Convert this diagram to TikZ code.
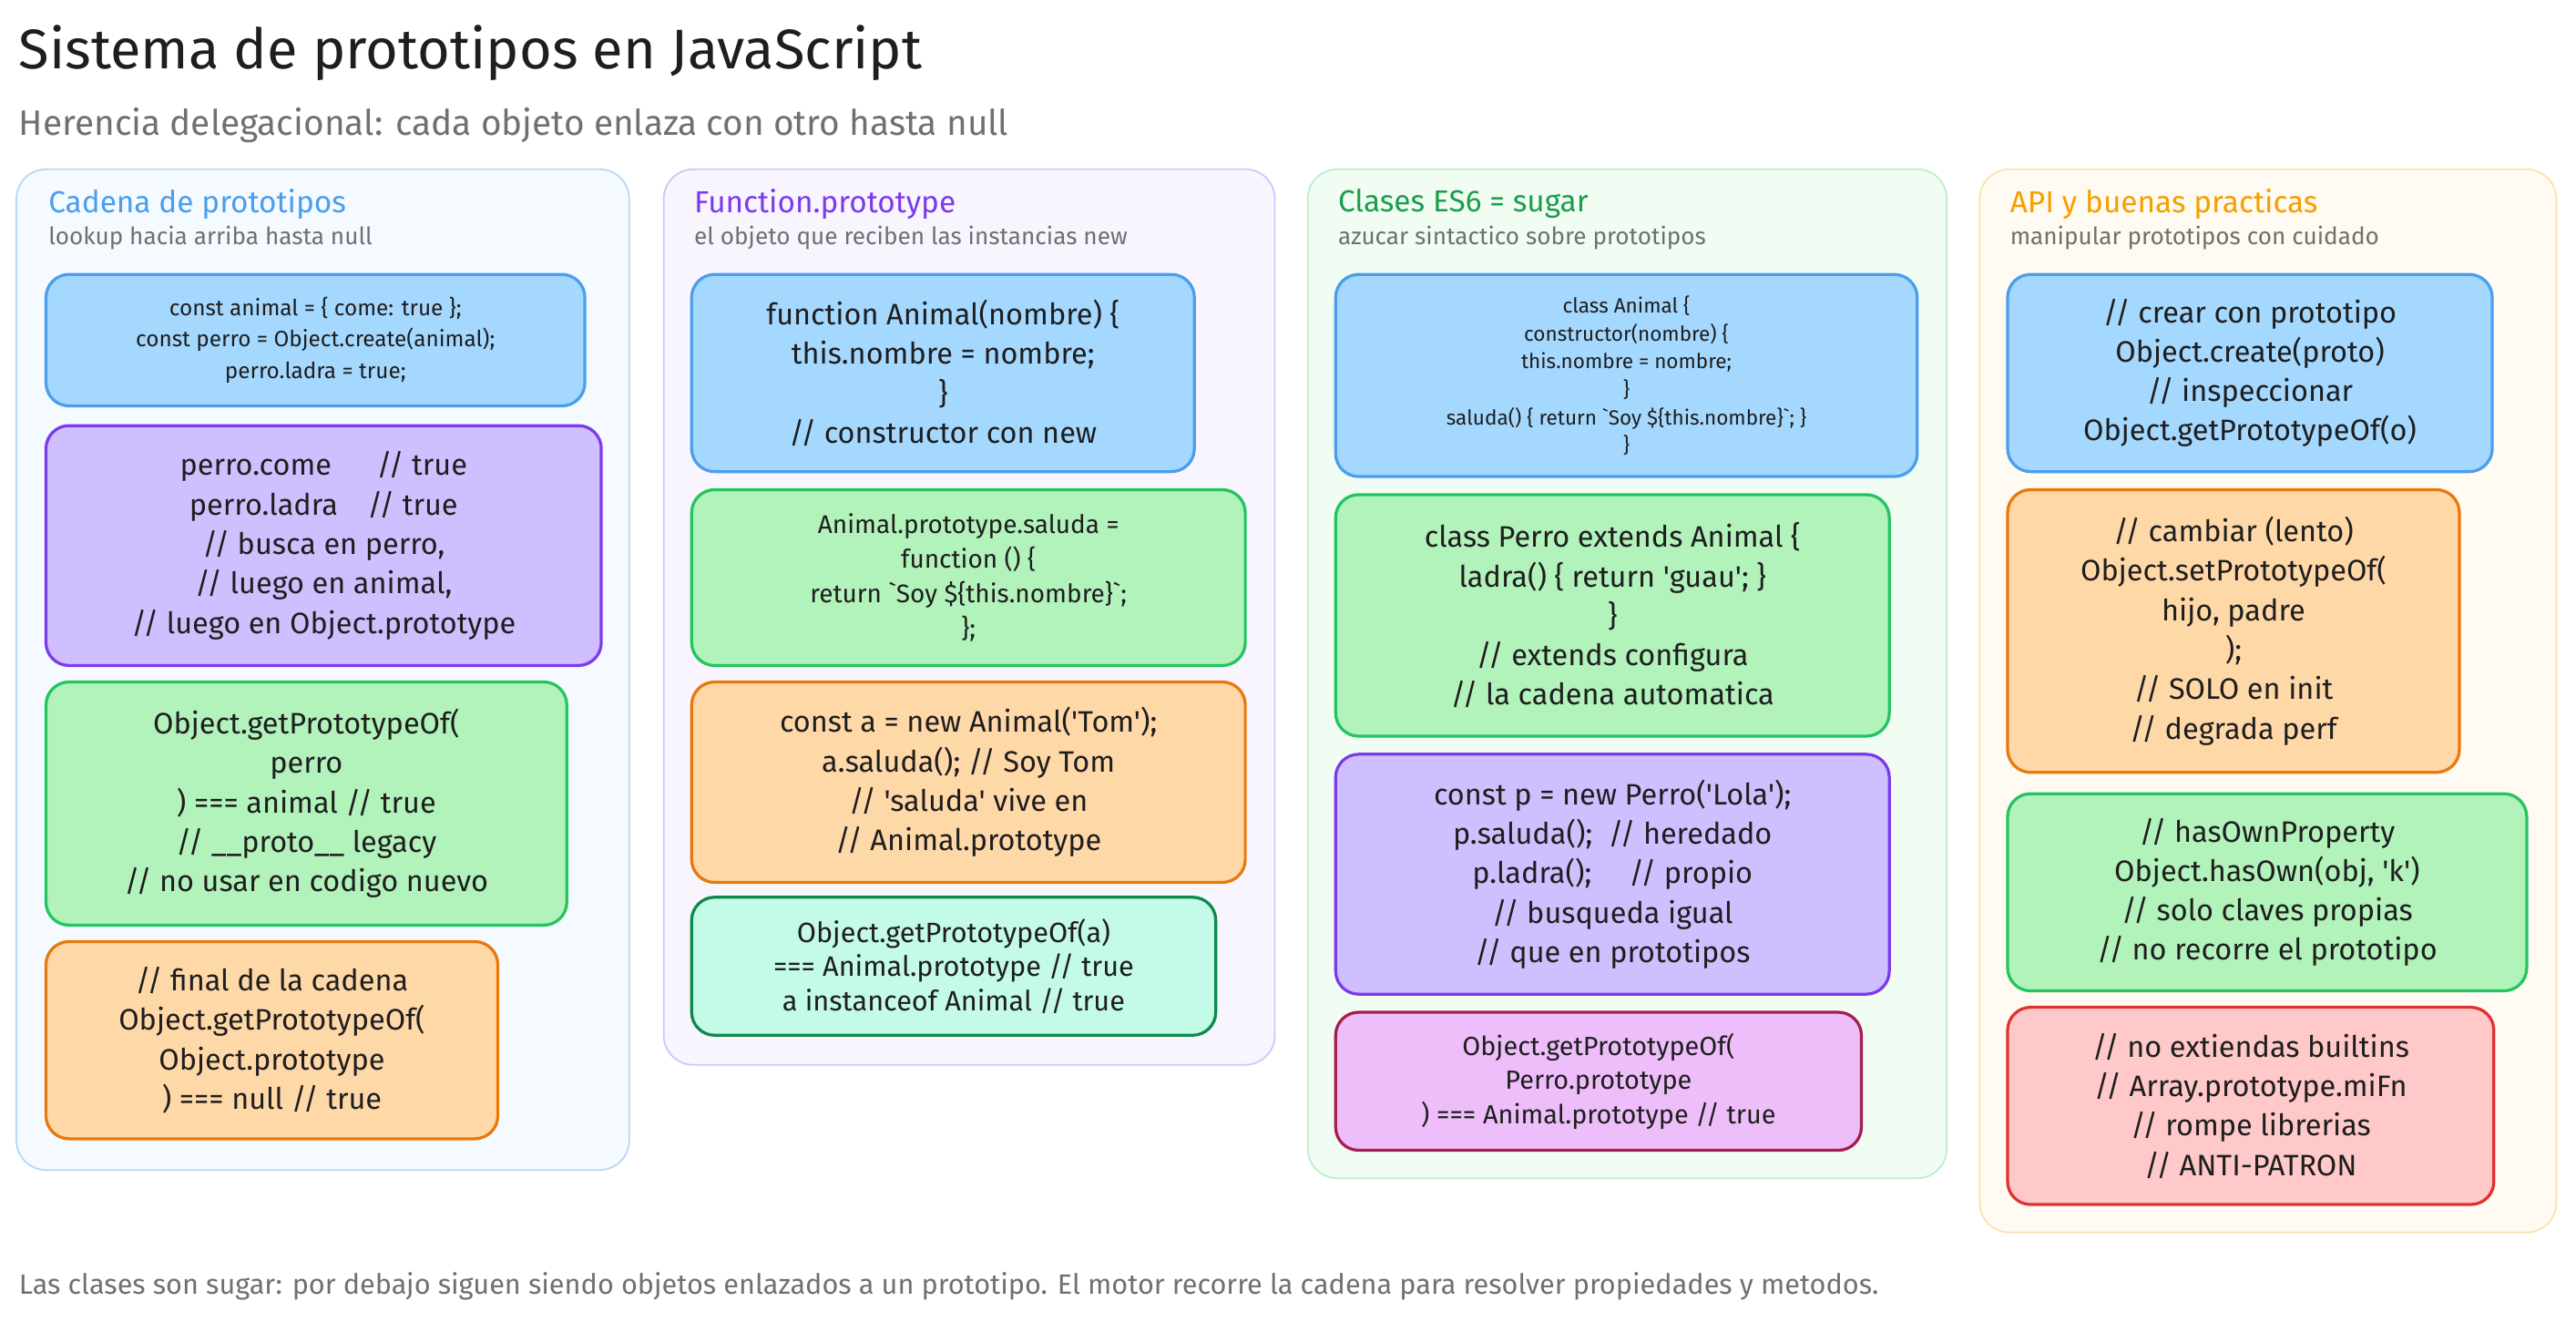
\documentclass[tikz,border=0pt]{standalone}
\usepackage{fontspec}
\newfontfamily\hf{Fira Sans}
\definecolor{ink}{HTML}{1E1E1E}
\definecolor{bF}{HTML}{A5D8FF}\definecolor{bD}{HTML}{4A9EED}
\definecolor{pF}{HTML}{D0BFFF}\definecolor{pD}{HTML}{7C3AED}
\definecolor{gF}{HTML}{B2F2BB}\definecolor{gD}{HTML}{22C55E}
\definecolor{oF}{HTML}{FFD8A8}\definecolor{oD}{HTML}{E8790B}
\definecolor{tF}{HTML}{C3FAE8}\definecolor{tD}{HTML}{0C8A4A}
\definecolor{kF}{HTML}{EEBEFA}\definecolor{kD}{HTML}{A61E4D}
\definecolor{rF}{HTML}{FFC9C9}\definecolor{rD}{HTML}{E03131}
\definecolor{yD}{HTML}{F59F00}
\definecolor{gray1}{HTML}{707070}
\tikzset{
 card/.style={draw=#1D,fill=#1F,line width=1.8pt,rounded corners=14pt,align=center,text=ink,inner sep=4pt},
 panel/.style={draw=#1,line width=1pt,rounded corners=18pt},
 big/.style={font=\hf\fontsize{18}{24}\selectfont},
 head/.style={anchor=west,font=\hf\fontsize{18.5}{20}\selectfont},
 sub/.style={anchor=west,font=\hf\fontsize{14.5}{15}\selectfont,text=gray1},
}
\newcommand\bx[7]{\node[#6,minimum width=#4pt-#2pt,minimum height=#5pt-#3pt] (#1) at ({(#2+#4)/2},{(#3+#5)/2}) {#7};}
\begin{document}
\begin{tikzpicture}[x=1pt,y=-1pt]
\useasboundingbox[fill=white] (0,0) rectangle (1568,804);
\node[anchor=west,font=\hf\fontsize{34}{38}\selectfont,text=ink] (title) at (8,32) {Sistema de prototipos en JavaScript};
\node[anchor=west,font=\hf\fontsize{21.5}{24}\selectfont,text=gray1] (subt) at (8,76) {Herencia delegacional: cada objeto enlaza con otro hasta null};
% panels
\draw[panel=bD!40,fill=bF!12] (10,103) rectangle (383,712);
\draw[panel=pD!30,fill=pF!15] (404,103) rectangle (776,648);
\draw[panel=gD!30,fill=gF!18] (796,103) rectangle (1185,717);
\draw[panel=yD!30,fill=yD!5] (1205,103) rectangle (1556,750);
\node[head,text=bD] (h1) at (26,124) {Cadena de prototipos};
\node[sub] (s1) at (26,145) {lookup hacia arriba hasta null};
\node[head,text=pD] (h2) at (419,124) {Function.prototype};
\node[sub] (s2) at (419,145) {el objeto que reciben las instancias new};
\node[head,text=gD!80!black] (h3) at (811,124) {Clases ES6 = sugar};
\node[sub] (s3) at (811,145) {azucar sintactico sobre prototipos};
\node[head,text=yD] (h4) at (1220,124) {API y buenas practicas};
\node[sub] (s4) at (1220,145) {manipular prototipos con cuidado};
% col1
\bx{a1}{28}{167}{356}{247}{card=b,font=\hf\fontsize{13.5}{19}\selectfont}{const animal = \{ come: true \};\\const perro = Object.create(animal);\\perro.ladra = true;}
\bx{a2}{28}{259}{366}{405}{card=p,big}{perro.come\quad\ \ // true\\perro.ladra\quad // true\\// busca en perro,\\// luego en animal,\\// luego en Object.prototype}
\bx{a3}{28}{415}{345}{563}{card=g,big}{Object.getPrototypeOf(\\perro\\) === animal // true\\// \_\_proto\_\_ legacy\\// no usar en codigo nuevo}
\bx{a4}{28}{573}{303}{693}{card=o,big}{// final de la cadena\\Object.getPrototypeOf(\\Object.prototype\\) === null // true}
% col2
\bx{b1}{421}{167}{727}{287}{card=b,big}{function Animal(nombre) \{\\this.nombre = nombre;\\\}\\// constructor con new}
\bx{b2}{421}{298}{758}{405}{card=g,font=\hf\fontsize{15.5}{21}\selectfont}{Animal.prototype.saluda =\\function () \{\\return `Soy \$\{this.nombre\}`;\\\};}
\bx{b3}{421}{415}{758}{537}{card=o,big}{const a = new Animal('Tom');\\a.saluda(); // Soy Tom\\// 'saluda' vive en\\// Animal.prototype}
\bx{b4}{421}{546}{740}{630}{card=t,font=\hf\fontsize{17}{21}\selectfont}{Object.getPrototypeOf(a)\\=== Animal.prototype // true\\a instanceof Animal // true}
% col3
\bx{c1}{813}{167}{1167}{290}{card=b,font=\hf\fontsize{12.5}{17}\selectfont}{class Animal \{\\constructor(nombre) \{\\this.nombre = nombre;\\\}\\saluda() \{ return `Soy \$\{this.nombre\}`; \}\\\}}
\bx{c2}{813}{301}{1150}{448}{card=g,big}{class Perro extends Animal \{\\ladra() \{ return 'guau'; \}\\\}\\// extends configura\\// la cadena automatica}
\bx{c3}{813}{459}{1150}{605}{card=p,big}{const p = new Perro('Lola');\\p.saluda();\ \ // heredado\\p.ladra();\quad\ // propio\\// busqueda igual\\// que en prototipos}
\bx{c4}{813}{616}{1133}{700}{card=k,font=\hf\fontsize{16}{21}\selectfont}{Object.getPrototypeOf(\\Perro.prototype\\) === Animal.prototype // true}
% col4
\bx{d1}{1222}{167}{1517}{287}{card=b,big}{// crear con prototipo\\Object.create(proto)\\// inspeccionar\\Object.getPrototypeOf(o)}
\bx{d2}{1222}{298}{1497}{470}{card=o,big}{// cambiar (lento)\\Object.setPrototypeOf(\\hijo, padre\\);\\// SOLO en init\\// degrada perf}
\bx{d3}{1222}{483}{1538}{603}{card=g,big}{// hasOwnProperty\\Object.hasOwn(obj, 'k')\\// solo claves propias\\// no recorre el prototipo}
\bx{d4}{1222}{613}{1518}{733}{card=r,big}{// no extiendas builtins\\// Array.prototype.miFn\\// rompe librerias\\// ANTI-PATRON}
\node[anchor=west,font=\hf\fontsize{17}{20}\selectfont,text=gray1] (foot) at (8,783) {Las clases son sugar: por debajo siguen siendo objetos enlazados a un prototipo. El motor recorre la cadena para resolver propiedades y metodos.};
\end{tikzpicture}
\end{document}
